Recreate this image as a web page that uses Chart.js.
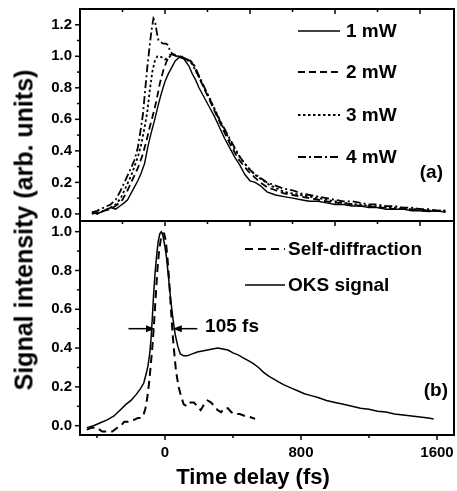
<!DOCTYPE html>
<html>
<head>
<meta charset="utf-8">
<script src="https://cdn.jsdelivr.net/npm/chart.js@4.4.0/dist/chart.umd.min.js"></script>
<style>
  body { margin: 0; background: #fff; }
  #wrap { position: relative; width: 457px; height: 491px; }
  canvas { position: absolute; left: 0; top: 0; }
  .axis-title {
    position: absolute;
    font-family: 'Liberation Sans', Arial, sans-serif;
    font-weight: bold;
    color: #000;
    white-space: nowrap;
    transform: translate(-50%, -50%);
  }
  #ytitle { left: 24px; top: 230px; font-size: 25px; line-height: 25px; transform: translate(-50%, -50%) rotate(-90deg); }
  #xtitle { left: 253px; top: 477px; font-size: 22px; line-height: 22px; }
</style>
</head>
<body>
<div id="wrap">
  <canvas id="chart" width="457" height="491"></canvas>
  <div class="axis-title" id="ytitle">Signal intensity (arb. units)</div>
  <div class="axis-title" id="xtitle">Time delay (fs)</div>
</div>
<script>
// ----- panel (a): pump power series -----
const mw1Time = [-430, -400, -360, -320, -290, -265, -240, -220, -200, -180, -160, -140, -120, -100, -80, -60, -40, -20, 0, 20, 40, 60, 80, 100, 120, 140, 160, 180, 200, 230, 260, 290, 320, 350, 380, 410, 440, 470, 500, 530, 560, 600, 650, 700, 750, 800, 850, 900, 950, 1000, 1050, 1100, 1150, 1200, 1250, 1300, 1350, 1400, 1450, 1500, 1550, 1600, 1650]
const mw1Signal = [0.01, 0.0, 0.02, 0.04, 0.03, 0.05, 0.07, 0.09, 0.13, 0.17, 0.21, 0.26, 0.32, 0.43, 0.52, 0.6, 0.69, 0.77, 0.84, 0.89, 0.93, 0.97, 0.99, 1.0, 0.97, 0.94, 0.89, 0.85, 0.8, 0.74, 0.68, 0.62, 0.55, 0.48, 0.42, 0.36, 0.31, 0.25, 0.21, 0.2, 0.18, 0.14, 0.12, 0.11, 0.1, 0.09, 0.08, 0.08, 0.07, 0.06, 0.06, 0.05, 0.05, 0.04, 0.04, 0.03, 0.03, 0.03, 0.02, 0.02, 0.015, 0.02, 0.01]

const mw2Time = [-430, -400, -360, -320, -280, -250, -220, -190, -160, -130, -110, -90, -70, -50, -30, -10, 10, 30, 50, 70, 90, 110, 130, 150, 170, 190, 220, 250, 280, 310, 340, 370, 400, 430, 460, 490, 520, 560, 600, 650, 700, 750, 800, 850, 900, 950, 1000, 1050, 1100, 1150, 1200, 1250, 1300, 1350, 1400, 1450, 1500, 1550, 1600, 1650]
const mw2Signal = [0.0, 0.01, 0.02, 0.03, 0.06, 0.09, 0.15, 0.22, 0.29, 0.38, 0.46, 0.55, 0.63, 0.72, 0.83, 0.91, 0.97, 1.01, 1.01, 1.0, 1.0, 0.99, 0.98, 0.97, 0.94, 0.89, 0.82, 0.75, 0.68, 0.61, 0.54, 0.47, 0.41, 0.35, 0.31, 0.27, 0.24, 0.2, 0.17, 0.15, 0.13, 0.12, 0.11, 0.1, 0.09, 0.08, 0.07, 0.07, 0.06, 0.05, 0.05, 0.04, 0.04, 0.03, 0.03, 0.03, 0.02, 0.02, 0.02, 0.015]

const mw3Time = [-430, -400, -360, -320, -290, -260, -230, -200, -180, -160, -140, -120, -105, -90, -75, -60, -45, -30, -15, 0, 20, 40, 60, 80, 100, 120, 140, 160, 180, 200, 230, 260, 290, 320, 350, 380, 410, 440, 470, 500, 540, 580, 620, 660, 700, 750, 800, 850, 900, 950, 1000, 1050, 1100, 1150, 1200, 1250, 1300, 1350, 1400, 1450, 1500, 1550, 1600, 1650]
const mw3Signal = [0.01, 0.0, 0.02, 0.04, 0.06, 0.1, 0.17, 0.24, 0.3, 0.36, 0.44, 0.55, 0.64, 0.78, 0.9, 0.97, 1.0, 1.0, 0.99, 0.98, 0.99, 1.01, 1.01, 1.0, 0.99, 0.98, 0.97, 0.95, 0.91, 0.87, 0.8, 0.74, 0.67, 0.6, 0.53, 0.47, 0.41, 0.36, 0.32, 0.28, 0.24, 0.21, 0.18, 0.16, 0.14, 0.13, 0.12, 0.11, 0.1, 0.09, 0.08, 0.07, 0.06, 0.06, 0.05, 0.05, 0.04, 0.04, 0.03, 0.03, 0.03, 0.02, 0.02, 0.02]

const mw4Time = [-430, -400, -360, -320, -290, -260, -230, -200, -180, -160, -145, -130, -118, -105, -92, -80, -68, -58, -48, -38, -25, -10, 5, 20, 30, 50, 70, 90, 110, 130, 150, 170, 190, 220, 250, 280, 310, 340, 370, 400, 430, 460, 490, 520, 560, 600, 650, 700, 750, 800, 850, 900, 950, 1000, 1050, 1100, 1150, 1200, 1250, 1300, 1350, 1400, 1450, 1500, 1550, 1600, 1650]
const mw4Signal = [0.01, 0.02, 0.04, 0.06, 0.09, 0.15, 0.22, 0.29, 0.34, 0.42, 0.52, 0.63, 0.77, 0.92, 1.05, 1.16, 1.24, 1.22, 1.15, 1.1, 1.09, 1.08, 1.08, 1.07, 1.03, 1.01, 1.0, 0.99, 0.99, 0.98, 0.97, 0.95, 0.9, 0.83, 0.76, 0.69, 0.62, 0.56, 0.5, 0.44, 0.38, 0.33, 0.29, 0.26, 0.23, 0.2, 0.18, 0.16, 0.15, 0.13, 0.12, 0.11, 0.1, 0.09, 0.08, 0.08, 0.07, 0.06, 0.06, 0.05, 0.05, 0.04, 0.04, 0.03, 0.03, 0.02, 0.02]

// ----- panel (b): self-diffraction vs OKS -----
const sdTime = [-460, -430, -400, -370, -340, -310, -280, -260, -240, -220, -200, -180, -160, -140, -125, -115, -105, -95, -85, -75, -65, -55, -45, -35, -25, -15, -5, 5, 15, 25, 35, 45, 55, 65, 80, 95, 110, 130, 150, 170, 190, 210, 230, 250, 270, 290, 310, 330, 350, 370, 390, 410, 440, 470, 500, 530]
const sdSignal = [-0.02, -0.01, -0.01, -0.03, -0.03, -0.03, -0.01, 0.0, 0.02, 0.02, 0.03, 0.03, 0.04, 0.04, 0.06, 0.09, 0.14, 0.21, 0.3, 0.4, 0.52, 0.66, 0.8, 0.9, 0.96, 0.99, 0.99, 0.95, 0.86, 0.74, 0.6, 0.47, 0.37, 0.28, 0.2, 0.15, 0.11, 0.1, 0.12, 0.12, 0.1, 0.08, 0.11, 0.13, 0.12, 0.1, 0.08, 0.07, 0.09, 0.09, 0.07, 0.06, 0.06, 0.05, 0.045, 0.035]

const oksTime = [-460, -420, -380, -340, -300, -265, -230, -200, -170, -145, -125, -110, -100, -90, -82, -75, -68, -60, -50, -40, -30, -22, -12, 0, 10, 20, 30, 40, 50, 60, 75, 90, 110, 130, 160, 190, 220, 250, 280, 310, 340, 370, 400, 430, 460, 490, 520, 550, 580, 610, 640, 670, 700, 740, 780, 820, 860, 900, 950, 1000, 1050, 1100, 1150, 1200, 1250, 1300, 1350, 1400, 1450, 1500, 1550, 1580]
const oksSignal = [-0.01, 0.0, 0.015, 0.03, 0.05, 0.08, 0.11, 0.13, 0.16, 0.19, 0.22, 0.27, 0.31, 0.37, 0.45, 0.55, 0.66, 0.77, 0.87, 0.95, 0.99, 1.0, 0.98, 0.92, 0.86, 0.77, 0.68, 0.6, 0.53, 0.47, 0.41, 0.37, 0.36, 0.36, 0.37, 0.38, 0.385, 0.39, 0.395, 0.4, 0.395, 0.39, 0.375, 0.365, 0.35, 0.335, 0.32, 0.3, 0.275, 0.255, 0.24, 0.225, 0.21, 0.195, 0.18, 0.165, 0.155, 0.145, 0.13, 0.12, 0.11, 0.1, 0.09, 0.085, 0.075, 0.07, 0.06, 0.055, 0.05, 0.045, 0.04, 0.035]

// ----- axes -----
const xTickLabels = [0, 800, 1600]
const xBottomTicks = [-400, 0, 400, 800, 1200, 1600]
const xPanelTicks = [-250, 0, 250, 500, 750, 1000, 1250, 1500]
const yTopTickLabels = [0, 0.2, 0.4, 0.6, 0.8, 1.0, 1.2]
const yBotTickLabels = [0, 0.2, 0.4, 0.6, 0.8, 1.0]

const topLegend = ['1 mW', '2 mW', '3 mW', '4 mW']
const botLegend = ['Self-diffraction', 'OKS signal']

// FWHM marker: arrows at half maximum, [tail, head] in fs
const fwhmLevel = 0.5
const fwhmArrows = [[-215, -59], [190, 46]]
const fwhmText = '105 fs'
const fwhmTextTime = 236

const topStyles = [[], [7, 4], [2.5, 2.5], [8, 3, 2, 3]]
const botStyles = [[8, 5], []]

const FONT = "'Liberation Sans', Arial, sans-serif"

function toPoints(xs, ys) {
  return xs.map((x, i) => ({ x, y: ys[i] }))
}

function line(label, xs, ys, axis, dash, width) {
  return {
    label,
    data: toPoints(xs, ys),
    yAxisID: axis,
    showLine: true,
    borderColor: '#000',
    borderWidth: width,
    borderDash: dash,
    pointRadius: 0,
    tension: 0,
  }
}

// no label overflow padding, the frame must sit exactly where set
function noPadding(axis) {
  axis.paddingLeft = 0
  axis.paddingRight = 0
  axis.paddingTop = 0
  axis.paddingBottom = 0
}

const panelDecor = {
  id: 'panelDecor',
  afterDatasetsDraw(chart) {
    const { ctx, chartArea: area } = chart
    const { x, yTop, yBot } = chart.scales
    const w = area.right - area.left
    ctx.save()
    ctx.strokeStyle = '#000'
    ctx.fillStyle = '#000'
    ctx.setLineDash([])

    // frames
    ctx.lineWidth = 2
    ctx.strokeRect(area.left, yTop.top, w, yTop.bottom - yTop.top)
    ctx.strokeRect(area.left, yBot.top, w, yBot.bottom - yBot.top)

    // tick marks
    ctx.lineWidth = 1.5
    const vTick = (px, y0, len) => {
      ctx.beginPath(); ctx.moveTo(px, y0); ctx.lineTo(px, y0 + len); ctx.stroke()
    }
    const hTick = (py, len) => {
      ctx.beginPath(); ctx.moveTo(area.left, py); ctx.lineTo(area.left - len, py); ctx.stroke()
    }
    for (let i = 0; i <= 12; i++) hTick(yTop.getPixelForValue(i / 10), i % 2 ? 3 : 5)
    for (let i = 0; i <= 10; i++) hTick(yBot.getPixelForValue(i / 10), i % 2 ? 3 : 5)
    xBottomTicks.forEach(v => vTick(x.getPixelForValue(v), yBot.bottom, v % 800 === 0 ? 5 : 3))
    xPanelTicks.forEach(v => {
      const len = v % 500 === 0 ? 5 : 3
      vTick(x.getPixelForValue(v), yTop.top, len)
      vTick(x.getPixelForValue(v), yTop.bottom, len)
    })

    // legends
    ctx.font = `bold 19px ${FONT}`
    ctx.textBaseline = 'middle'
    ctx.textAlign = 'left'
    const rowsTop = [22, 63, 106, 148]
    topLegend.forEach((name, i) => {
      const yy = yTop.top + rowsTop[i]
      ctx.lineWidth = i === 0 ? 1.5 : 2
      ctx.setLineDash(topStyles[i])
      ctx.beginPath(); ctx.moveTo(area.right - 156, yy); ctx.lineTo(area.right - 114, yy); ctx.stroke()
      ctx.setLineDash([])
      ctx.fillText(name, area.right - 108, yy + 1)
    })
    const rowsBot = [28, 64]
    botLegend.forEach((name, i) => {
      const yy = yBot.top + rowsBot[i]
      ctx.lineWidth = i === 0 ? 2 : 1.5
      ctx.setLineDash(botStyles[i])
      ctx.beginPath(); ctx.moveTo(area.right - 209, yy); ctx.lineTo(area.right - 169, yy); ctx.stroke()
      ctx.setLineDash([])
      ctx.fillText(name, area.right - 166, yy + 1)
    })

    // panel labels
    ctx.textAlign = 'right'
    ctx.fillText('(a)', area.right - 11, yTop.bottom - 48)
    ctx.fillText('(b)', area.right - 6, yBot.bottom - 44)

    // FWHM arrows
    const ay = yBot.getPixelForValue(fwhmLevel)
    ctx.lineWidth = 1.5
    fwhmArrows.forEach(([from, to]) => {
      const x0 = x.getPixelForValue(from)
      const x1 = x.getPixelForValue(to)
      const dir = Math.sign(x1 - x0)
      ctx.beginPath(); ctx.moveTo(x0, ay); ctx.lineTo(x1 - dir * 6, ay); ctx.stroke()
      ctx.beginPath()
      ctx.moveTo(x1, ay)
      ctx.lineTo(x1 - dir * 9, ay - 3.5)
      ctx.lineTo(x1 - dir * 9, ay + 3.5)
      ctx.closePath()
      ctx.fill()
    })
    ctx.textAlign = 'left'
    ctx.fillText(fwhmText, x.getPixelForValue(fwhmTextTime), ay - 2)
    ctx.restore()
  },
}

const tickFont = { family: FONT, size: 15, weight: 'bold' }

function yAxis(min, max, weight, labels) {
  return {
    type: 'linear',
    position: 'left',
    stack: 'panels',
    stackWeight: weight,
    min,
    max,
    afterBuildTicks: axis => { axis.ticks = labels.map(value => ({ value })) },
    afterFit: axis => { axis.width = 80; noPadding(axis) },
    grid: { display: false, drawTicks: false },
    border: { display: false },
    ticks: { font: tickFont, color: '#000', padding: 8, autoSkip: false, callback: v => v.toFixed(1) },
  }
}

new Chart(document.getElementById('chart'), {
  type: 'scatter',
  data: {
    datasets: [
      line('1 mW', mw1Time, mw1Signal, 'yTop', topStyles[0], 1.4),
      line('2 mW', mw2Time, mw2Signal, 'yTop', topStyles[1], 1.8),
      line('3 mW', mw3Time, mw3Signal, 'yTop', topStyles[2], 1.8),
      line('4 mW', mw4Time, mw4Signal, 'yTop', topStyles[3], 1.8),
      line('Self-diffraction', sdTime, sdSignal, 'yBot', botStyles[0], 2),
      line('OKS signal', oksTime, oksSignal, 'yBot', botStyles[1], 1.5),
    ],
  },
  options: {
    responsive: false,
    animation: false,
    devicePixelRatio: 1,
    layout: { padding: { top: 9, right: 3, bottom: 0, left: 0 } },
    plugins: { legend: { display: false }, tooltip: { enabled: false } },
    scales: {
      x: {
        type: 'linear',
        position: 'bottom',
        min: -500,
        max: 1700,
        afterBuildTicks: axis => { axis.ticks = xTickLabels.map(value => ({ value })) },
        afterFit: axis => { axis.height = 56; noPadding(axis) },
        grid: { display: false, drawTicks: false },
        border: { display: false },
        ticks: { font: tickFont, color: '#000', padding: 9, maxRotation: 0, autoSkip: false, callback: v => String(v) },
      },
      // stacked axes are placed bottom-up in definition order
      yBot: yAxis(-0.048, 1.055, 214, yBotTickLabels),
      yTop: yAxis(-0.045, 1.3, 212, yTopTickLabels),
    },
  },
  plugins: [panelDecor],
})
</script>
</body>
</html>
